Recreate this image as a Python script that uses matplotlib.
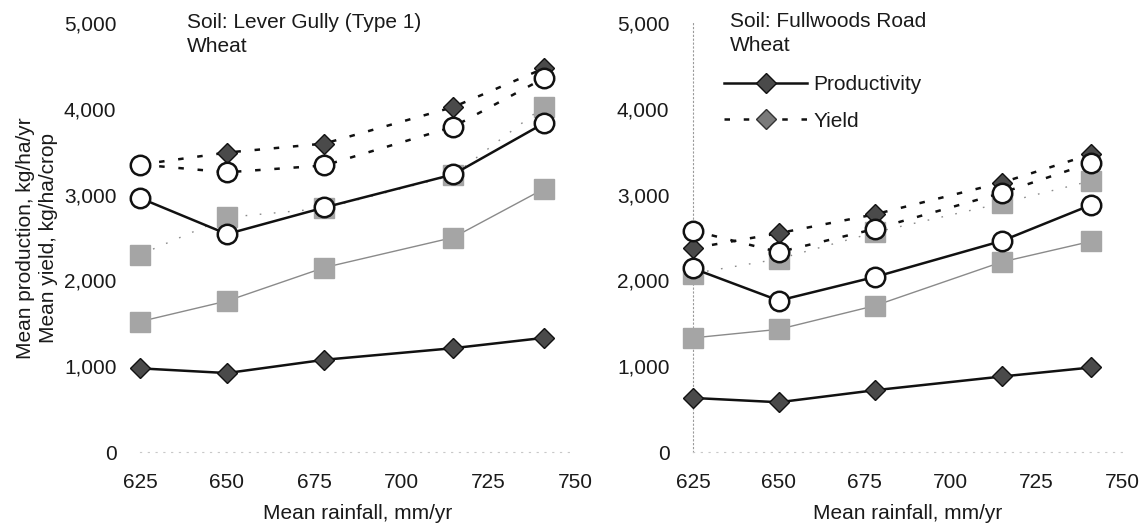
import matplotlib
matplotlib.use("Agg")
import matplotlib.pyplot as plt
from matplotlib.lines import Line2D
from matplotlib.ticker import FuncFormatter

plt.rcParams['font.family'] = ['Liberation Sans', 'DejaVu Sans']

rainfall = [625, 650, 678, 715, 741]
x_ticks = [625, 650, 675, 700, 725, 750]
y_ticks = [0, 1000, 2000, 3000, 4000, 5000]

# Left: Lever Gully (Type 1)
prod_diamond_L = [975, 920, 1075, 1210, 1330]
prod_circle_L = [2960, 2540, 2850, 3235, 3830]
prod_square_L = [1520, 1760, 2150, 2500, 3065]
yield_square_L = [2300, 2735, 2840, 3225, 4025]
yield_diamond_L = [3350, 3490, 3595, 4020, 4470]
yield_circle_L = [3350, 3260, 3340, 3790, 4355]

# Right: Fullwoods Road
prod_diamond_R = [630, 580, 720, 880, 985]
prod_circle_R = [2140, 1765, 2040, 2460, 2880]
prod_square_R = [1330, 1430, 1705, 2215, 2455]
yield_square_R = [2080, 2250, 2560, 2900, 3160]
yield_diamond_R = [2375, 2550, 2770, 3140, 3470]
yield_circle_R = [2580, 2330, 2600, 3020, 3370]

titles = ["Soil: Lever Gully (Type 1)\nWheat", "Soil: Fullwoods Road\nWheat"]
legend_labels = ["Productivity", "Yield"]

W, H = 1147, 524
fig = plt.figure(figsize=(W / 100, H / 100), dpi=100)

def px_ax(x0, x1, y_top, y_bot):
    return [x0 / W, 1 - y_bot / H, (x1 - x0) / W, (y_bot - y_top) / H]

axL = fig.add_axes(px_ax(140, 575, 23, 452))
axR = fig.add_axes(px_ax(693, 1122, 23, 452))

FS = 15
TXT = '#1a1a1a'
dia_fc = '#4a4a4a'
sq_c = '#a5a5a5'

dash = (0, (2.2, 5.5))
dot = (0, (1.2, 9))

def draw(ax, ps, pd, pc, ysq, yd, yc):
    # squares
    ax.plot(rainfall, ps, color='#8a8a8a', lw=1.0, zorder=2, clip_on=False)
    ax.plot(rainfall, ysq, color='#8a8a8a', lw=1.0, ls=dot, zorder=2, clip_on=False)
    ax.plot(rainfall, ps, ls='none', marker='s', ms=14, mfc=sq_c, mec=sq_c, zorder=3, clip_on=False)
    ax.plot(rainfall, ysq, ls='none', marker='s', ms=14, mfc=sq_c, mec=sq_c, zorder=3, clip_on=False)
    # diamonds
    ax.plot(rainfall, pd, color='#111111', lw=1.8, marker='D', ms=10.5, mfc=dia_fc, mec='#111111',
            mew=1.0, zorder=4, clip_on=False)
    ax.plot(rainfall, yd, color='#111111', lw=1.8, ls=dash, marker='D', ms=10.5, mfc=dia_fc,
            mec='#111111', mew=1.0, zorder=4, clip_on=False)
    # circles
    ax.plot(rainfall, pc, color='#111111', lw=1.8, marker='o', ms=14, mfc='white', mec='#111111',
            mew=1.8, zorder=5, clip_on=False)
    ax.plot(rainfall, yc, color='#111111', lw=1.8, ls=dash, marker='o', ms=14, mfc='white',
            mec='#111111', mew=1.8, zorder=5, clip_on=False)

draw(axL, prod_square_L, prod_diamond_L, prod_circle_L, yield_square_L, yield_diamond_L, yield_circle_L)
draw(axR, prod_square_R, prod_diamond_R, prod_circle_R, yield_square_R, yield_diamond_R, yield_circle_R)

fmt = FuncFormatter(lambda v, p: f"{int(v):,}")
for ax in (axL, axR):
    ax.set_xlim(625, 750)
    ax.set_ylim(0, 5000)
    ax.set_xticks(x_ticks)
    ax.set_yticks(y_ticks)
    ax.yaxis.set_major_formatter(fmt)
    ax.tick_params(length=0, labelsize=FS, labelcolor=TXT)
    ax.tick_params(axis='y', pad=17)
    ax.tick_params(axis='x', pad=15)
    for s in ('top', 'right', 'left'):
        ax.spines[s].set_visible(False)
    ax.spines['bottom'].set_color('#c8c8c8')
    ax.spines['bottom'].set_linewidth(0.8)
    ax.spines['bottom'].set_linestyle((0, (1, 6)))
    ax.set_xlabel("Mean rainfall, mm/yr", fontsize=FS, color=TXT, labelpad=9)
    ax.set_facecolor('none')

axR.spines['left'].set_visible(True)
axR.spines['left'].set_color('#9a9a9a')
axR.spines['left'].set_linewidth(0.8)
axR.spines['left'].set_linestyle((0, (1, 2.5)))

fig.text(187 / W, 1 - 13 / H, titles[0], fontsize=FS, color=TXT, ha='left', va='top', linespacing=1.35)
fig.text(730 / W, 1 - 12 / H, titles[1], fontsize=FS, color=TXT, ha='left', va='top', linespacing=1.35)

fig.text(37 / W, 1 - 238 / H, "Mean production, kg/ha/yr\nMean yield, kg/ha/crop", fontsize=FS,
         color=TXT, rotation=90, ha='center', va='center', linespacing=1.3)

handles = [
    Line2D([], [], color='#111111', lw=1.8, marker='D', ms=10, mfc=dia_fc, mec='#111111'),
    Line2D([], [], color='#111111', lw=1.8, ls=dash, marker='D', ms=10, mfc='#7a7a7a', mec='#333333'),
]
leg = axR.legend(handles, legend_labels, loc='upper left', frameon=False, fontsize=FS,
                 bbox_to_anchor=(724 / W, 1 - 75 / H), bbox_transform=fig.transFigure,
                 handlelength=4.0, handletextpad=0.3, labelspacing=0.85, borderaxespad=0,
                 borderpad=0, markerscale=1.0)
for t in leg.get_texts():
    t.set_color(TXT)

fig.savefig("out.png", dpi=100, facecolor='white')
